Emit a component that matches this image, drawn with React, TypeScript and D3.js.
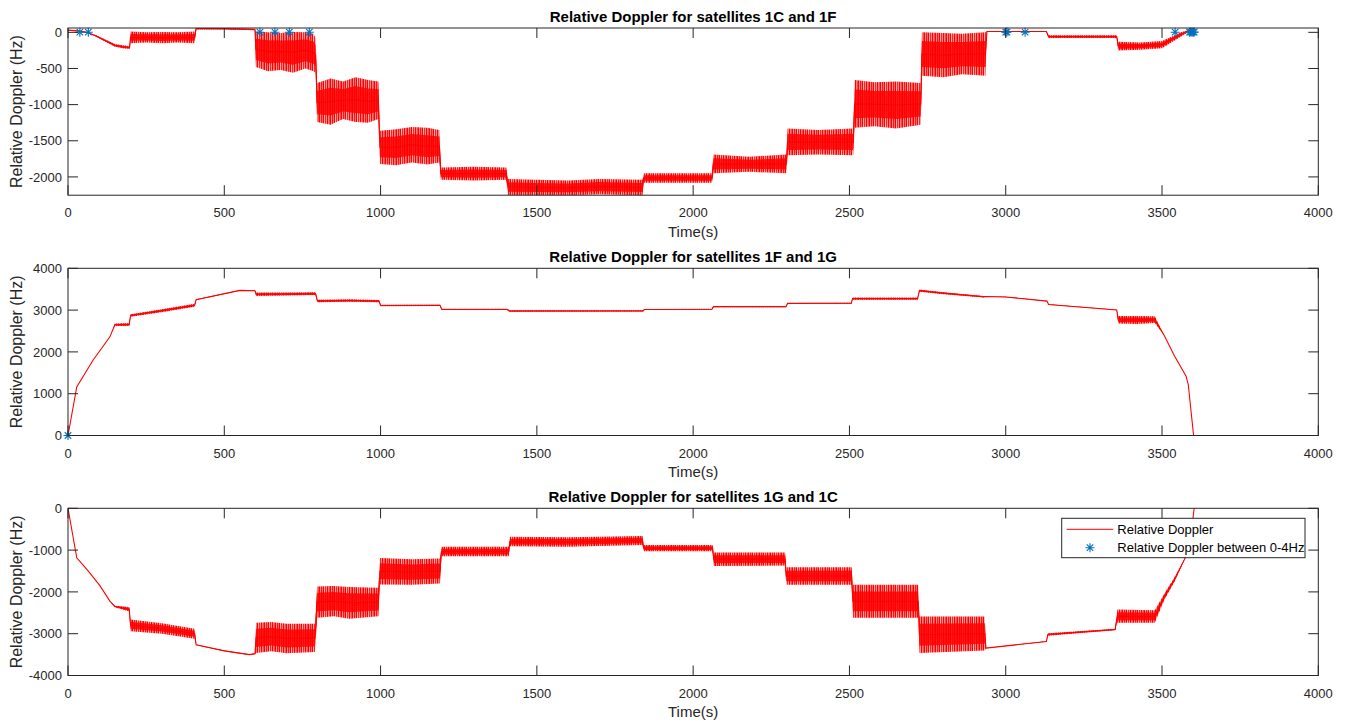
import React from "react";
import * as d3 from "d3";

// ---------- data ----------
const timeTicks = [0, 500, 1000, 1500, 2000, 2500, 3000, 3500, 4000];
const timeDomain = [0, 4000];

const titles = [
  "Relative Doppler for satellites 1C and 1F",
  "Relative Doppler for satellites 1F and 1G",
  "Relative Doppler for satellites 1G and 1C",
];

const yDomain1 = [-2253, 60];
const yDomain2 = [0, 4000];
const yDomain3 = [-4000, 0];

const yTicks1 = [-2000, -1500, -1000, -500, 0];
const yTicks2 = [0, 1000, 2000, 3000, 4000];
const yTicks3 = [-4000, -3000, -2000, -1000, 0];

// [time, low envelope, high envelope]
const trace1: [number, number, number][] = [
  [0, 25, 35], [30, 15, 25], [60, -5, 5], [90, -60, -40], [120, -130, -100],
  [150, -200, -160], [175, -220, -180], [197, -230, -190],
  [200, -150, 10], [250, -140, 0], [300, -150, 5], [350, -140, 0], [405, -150, 10],
  [410, 40, 65], [500, 40, 60], [598, 30, 50],
  [601, -480, 10], [640, -540, 0], [680, -520, -10], [720, -560, 5], [760, -500, 0],
  [785, -540, -20], [792, -560, -80],
  [797, -1240, -700], [840, -1280, -640], [880, -1200, -680], [920, -1240, -620],
  [960, -1250, -660], [993, -1200, -680],
  [998, -1820, -1360], [1050, -1840, -1340], [1100, -1800, -1310], [1150, -1830, -1320],
  [1188, -1800, -1350],
  [1193, -2040, -1870], [1300, -2050, -1860], [1402, -2040, -1870],
  [1408, -2250, -2030], [1500, -2253, -2040], [1600, -2253, -2050], [1700, -2240, -2030],
  [1838, -2253, -2040],
  [1842, -2080, -1950], [2060, -2080, -1950],
  [2065, -1950, -1690], [2180, -1930, -1720], [2298, -1950, -1690],
  [2302, -1700, -1330], [2400, -1690, -1350], [2512, -1700, -1330],
  [2517, -1320, -660], [2580, -1300, -690], [2650, -1330, -680], [2728, -1280, -700],
  [2732, -600, 0], [2800, -620, -10], [2860, -580, -20], [2935, -600, 0],
  [2940, 5, 20], [3130, 5, 20],
  [3137, -80, -40], [3250, -80, -40], [3355, -80, -40],
  [3360, -250, -130], [3430, -240, -140], [3500, -220, -120],
  [3530, -140, -60], [3560, -60, 0], [3590, 20, 40], [3600, 40, 55],
];

const trace2: [number, number, number][] = [
  [0, 0, 0], [28, 1160, 1160], [80, 1800, 1800], [134, 2360, 2360], [145, 2560, 2560],
  [150, 2620, 2680], [196, 2620, 2690],
  [200, 2840, 2900], [300, 2950, 3020], [405, 3080, 3150],
  [410, 3240, 3260], [550, 3465, 3480], [598, 3455, 3470],
  [602, 3340, 3420], [700, 3350, 3420], [792, 3360, 3430],
  [798, 3190, 3250], [900, 3200, 3260], [995, 3190, 3240],
  [1000, 3090, 3130], [1190, 3100, 3130],
  [1196, 3000, 3030], [1405, 3000, 3030],
  [1412, 2960, 2995], [1840, 2965, 2995],
  [1844, 3005, 3025], [2060, 3010, 3030],
  [2065, 3070, 3095], [2297, 3070, 3095],
  [2302, 3150, 3170], [2506, 3150, 3175],
  [2510, 3250, 3300], [2718, 3250, 3300],
  [2724, 3440, 3490], [2800, 3380, 3430], [2930, 3300, 3340],
  [2935, 3320, 3330], [3000, 3310, 3320], [3132, 3210, 3220],
  [3137, 3130, 3140], [3355, 3000, 3010],
  [3360, 2680, 2860], [3420, 2670, 2860], [3477, 2690, 2850],
  [3508, 2380, 2380], [3540, 1900, 1900], [3577, 1420, 1420], [3584, 1220, 1220],
  [3601, 0, 0],
];

const trace3: [number, number, number][] = [
  [0, 0, 0], [28, -1184, -1184], [65, -1504, -1504], [102, -1850, -1850], [134, -2220, -2220],
  [150, -2370, -2330], [196, -2470, -2360],
  [200, -2940, -2660], [300, -3000, -2750], [405, -3120, -2880],
  [410, -3270, -3260], [500, -3420, -3400], [580, -3510, -3490], [598, -3490, -3470],
  [602, -3460, -2740], [650, -3420, -2720], [700, -3470, -2760], [790, -3440, -2760],
  [797, -2620, -1870], [850, -2580, -1860], [900, -2640, -1880], [993, -2580, -1900],
  [998, -1820, -1190], [1100, -1830, -1220], [1190, -1800, -1200],
  [1195, -1150, -920], [1410, -1150, -920],
  [1414, -910, -680], [1600, -920, -690], [1838, -880, -660],
  [1842, -1030, -880], [2062, -1030, -880],
  [2066, -1380, -1060], [2294, -1370, -1060],
  [2298, -1830, -1410], [2507, -1830, -1410],
  [2511, -2620, -1830], [2720, -2620, -1830],
  [2724, -3460, -2590], [2933, -3400, -2590],
  [2937, -3350, -3340], [3130, -3190, -3180],
  [3135, -3050, -2990], [3350, -2920, -2880],
  [3357, -2740, -2420], [3477, -2740, -2440],
  [3508, -2180, -2030], [3540, -1760, -1650], [3577, -1150, -1140], [3593, -590, -580],
  [3603, 0, 0],
];

// [time, value] of "Relative Doppler between 0-4Hz" markers
const stars1: [number, number][] = [
  [38, 2], [65, 2], [614, 2], [662, 2], [708, 2], [772, 2],
  [3000, 2], [3004, 3], [3062, 2], [3542, 2],
  [3588, 2], [3592, 3], [3596, 1], [3600, 2], [3603, 3],
];
const stars2: [number, number][] = [[0, 0]];
const stars3: [number, number][] = [];

const legendLabels = ["Relative Doppler", "Relative Doppler between 0-4Hz"];

// ---------- layout ----------
const W = 1349;
const H = 723;
const LEFT = 68;
const RIGHT = 1318.3;
const TOPS = [28, 268.3, 508.3];
const PH = 167.2;
const TICK = 10;
const AX = "#262626";
const RED = "#ff0000";
const BLUE = "#0072bd";
const FONT = "'Liberation Sans', Arial, Helvetica, sans-serif";

type Row = [number, number, number];

function Star({ x, y }: { x: number; y: number }) {
  const r = 4.5;
  const d = r * 0.72;
  return (
    <path
      d={`M${x - r},${y}H${x + r}M${x},${y - r}V${y + r}M${x - d},${y - d}L${x + d},${y + d}M${x - d},${y + d}L${x + d},${y - d}`}
      stroke={BLUE}
      strokeWidth={1.1}
      fill="none"
    />
  );
}

function Panel({
  idx,
  title,
  yDomain,
  yTicks,
  trace,
  stars,
  legend,
}: {
  idx: number;
  title: string;
  yDomain: number[];
  yTicks: number[];
  trace: Row[];
  stars: [number, number][];
  legend?: boolean;
}) {
  const top = TOPS[idx];
  const bottom = top + PH;
  const x = d3.scaleLinear().domain(timeDomain).range([LEFT, RIGHT]);
  const y = d3.scaleLinear().domain(yDomain).range([bottom, top]);
  // outer noisy envelope
  const area = d3
    .area<Row>()
    .x((d) => x(d[0]))
    .y0((d) => y(d[1]))
    .y1((d) => y(d[2]));
  // denser core of the noise (inner 60% of the envelope)
  const core = d3
    .area<Row>()
    .x((d) => x(d[0]))
    .y0((d) => y(d[1] + 0.2 * (d[2] - d[1])))
    .y1((d) => y(d[2] - 0.2 * (d[2] - d[1])));
  const mid = d3
    .line<Row>()
    .x((d) => x(d[0]))
    .y((d) => y((d[1] + d[2]) / 2));
  const clipId = `clip${idx}`;
  const patId = `noise${idx}`;
  const midY = (top + bottom) / 2;
  return (
    <g>
      <defs>
        <clipPath id={clipId}>
          <rect x={LEFT} y={top} width={RIGHT - LEFT} height={PH} />
        </clipPath>
        <pattern id={patId} patternUnits="userSpaceOnUse" width={11} height={H} x={0} y={0}>
          <rect x={0} y={0} width={11} height={H} fill={RED} fillOpacity={0.3} />
          <rect x={0} y={0} width={1.2} height={H} fill={RED} />
          <rect x={2} y={0} width={0.9} height={H} fill={RED} />
          <rect x={3.6} y={0} width={1.4} height={H} fill={RED} />
          <rect x={6.2} y={0} width={1} height={H} fill={RED} />
          <rect x={8} y={0} width={1.3} height={H} fill={RED} />
          <rect x={10.1} y={0} width={0.6} height={H} fill={RED} />
        </pattern>
      </defs>
      <g clipPath={`url(#${clipId})`}>
        <path d={area(trace) || ""} fill={`url(#${patId})`} stroke="none" />
        <path d={core(trace) || ""} fill={RED} fillOpacity={0.85} stroke="none" />
        <path d={mid(trace) || ""} fill="none" stroke={RED} strokeWidth={1.1} />
      </g>
      {stars.map((s, i) => (
        <Star key={i} x={x(s[0])} y={y(s[1])} />
      ))}
      {/* box */}
      <rect x={LEFT} y={top} width={RIGHT - LEFT} height={PH} fill="none" stroke={AX} strokeWidth={1} />
      {/* x ticks */}
      {timeTicks.map((t) => (
        <g key={t}>
          <line x1={x(t)} x2={x(t)} y1={bottom} y2={bottom - TICK} stroke={AX} strokeWidth={1} />
          <line x1={x(t)} x2={x(t)} y1={top} y2={top + TICK} stroke={AX} strokeWidth={1} />
          <text x={x(t)} y={bottom + 22} textAnchor="middle" fontSize={13} fill={AX} fontFamily={FONT}>
            {t}
          </text>
        </g>
      ))}
      {/* y ticks */}
      {yTicks.map((v) => (
        <g key={v}>
          <line x1={LEFT} x2={LEFT + TICK} y1={y(v)} y2={y(v)} stroke={AX} strokeWidth={1} />
          <line x1={RIGHT} x2={RIGHT - TICK} y1={y(v)} y2={y(v)} stroke={AX} strokeWidth={1} />
          <text x={LEFT - 6} y={y(v)} dy="0.36em" textAnchor="end" fontSize={13} fill={AX} fontFamily={FONT}>
            {v}
          </text>
        </g>
      ))}
      <text x={(LEFT + RIGHT) / 2} y={bottom + 41.5} textAnchor="middle" fontSize={15} fill={AX} fontFamily={FONT}>
        Time(s)
      </text>
      <text
        transform={`translate(21.5,${midY}) rotate(-90)`}
        textAnchor="middle"
        fontSize={16}
        fill={AX}
        fontFamily={FONT}
      >
        Relative Doppler (Hz)
      </text>
      <text
        x={(LEFT + RIGHT) / 2}
        y={top - 6.5}
        textAnchor="middle"
        fontSize={15}
        fontWeight="bold"
        fill="#000"
        fontFamily={FONT}
      >
        {title}
      </text>
      {legend && (
        <g>
          <rect x={1061.7} y={518.3} width={243.3} height={39.4} fill="#fff" stroke={AX} strokeWidth={1} />
          <line x1={1066.7} x2={1113.3} y1={529.3} y2={529.3} stroke={RED} strokeWidth={1} />
          <text x={1117.3} y={529.3} dy="0.36em" fontSize={13} fill="#000" fontFamily={FONT}>
            {legendLabels[0]}
          </text>
          <Star x={1090} y={547.7} />
          <text x={1117.3} y={547.7} dy="0.36em" fontSize={13} fill="#000" fontFamily={FONT}>
            {legendLabels[1]}
          </text>
        </g>
      )}
    </g>
  );
}

export default function App() {
  return (
    <svg
      width={W}
      height={H}
      viewBox={`0 0 ${W} ${H}`}
      style={{ position: "absolute", left: 0, top: 0, background: "#fff", display: "block" }}
    >
      <rect x={0} y={0} width={W} height={H} fill="#fff" />
      <Panel idx={0} title={titles[0]} yDomain={yDomain1} yTicks={yTicks1} trace={trace1} stars={stars1} />
      <Panel idx={1} title={titles[1]} yDomain={yDomain2} yTicks={yTicks2} trace={trace2} stars={stars2} />
      <Panel idx={2} title={titles[2]} yDomain={yDomain3} yTicks={yTicks3} trace={trace3} stars={stars3} legend />
    </svg>
  );
}
